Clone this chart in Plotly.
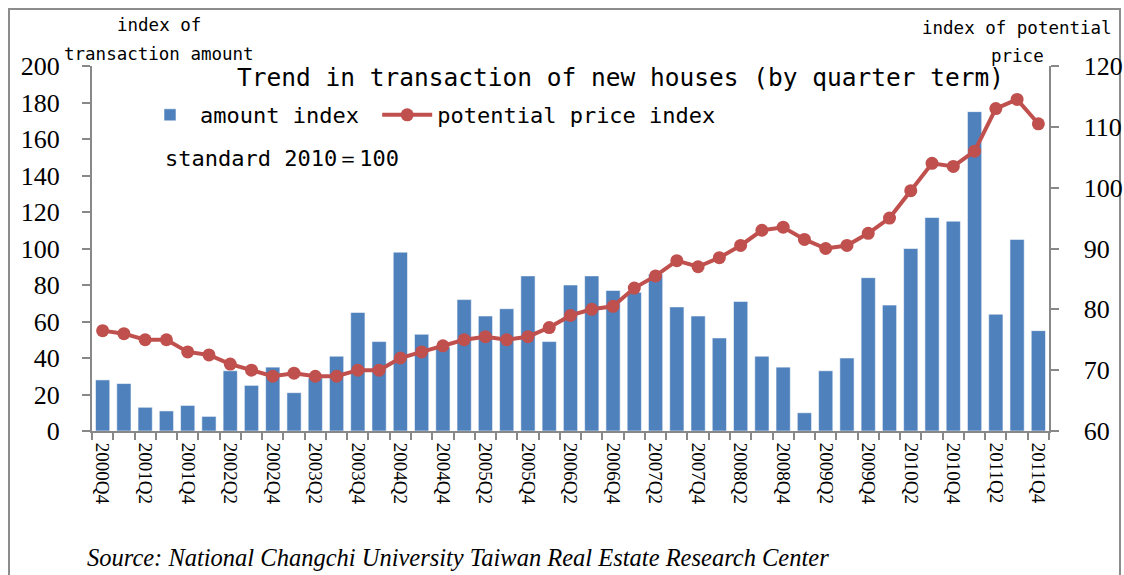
import plotly.graph_objects as go

quarters = ["2000Q4",
            "2001Q1", "2001Q2", "2001Q3", "2001Q4",
            "2002Q1", "2002Q2", "2002Q3", "2002Q4",
            "2003Q1", "2003Q2", "2003Q3", "2003Q4",
            "2004Q1", "2004Q2", "2004Q3", "2004Q4",
            "2005Q1", "2005Q2", "2005Q3", "2005Q4",
            "2006Q1", "2006Q2", "2006Q3", "2006Q4",
            "2007Q1", "2007Q2", "2007Q3", "2007Q4",
            "2008Q1", "2008Q2", "2008Q3", "2008Q4",
            "2009Q1", "2009Q2", "2009Q3", "2009Q4",
            "2010Q1", "2010Q2", "2010Q3", "2010Q4",
            "2011Q1", "2011Q2", "2011Q3", "2011Q4"]

amount_index = [28,
                26, 13, 11, 14,
                8, 33, 25, 35,
                21, 29, 41, 65,
                49, 98, 53, 46,
                72, 63, 67, 85,
                49, 80, 85, 77,
                76, 86, 68, 63,
                51, 71, 41, 35,
                10, 33, 40, 84,
                69, 100, 117, 115,
                175, 64, 105, 55]

price_index = [76.5,
               76, 75, 75, 73,
               72.5, 71, 70, 69,
               69.5, 69, 69, 70,
               70, 72, 73, 74,
               75, 75.5, 75, 75.5,
               77, 79, 80, 80.5,
               83.5, 85.5, 88, 87,
               88.5, 90.5, 93, 93.5,
               91.5, 90, 90.5, 92.5,
               95, 99.5, 104, 103.5,
               106, 113, 114.5, 110.5]

tick_labels = quarters[::2]

# page body margin is removed by post_script, so figure pixels == screenshot pixels
W, H = 1124, 575
PL, PR, PT, PB = 92, 1049, 66, 431


def px(x):
    return (x - PL) / (PR - PL)


def py(y):
    return (PB - y) / (PB - PT)


BLUE = "#4F81BD"
RED = "#C0504D"
MONO = "DejaVu Sans Mono"
SERIF = "Liberation Serif"
NBSP = "\u00a0"

xs = list(range(len(quarters)))

fig = go.Figure()
fig.add_trace(go.Bar(
    x=xs, y=amount_index, name="amount index" + NBSP,
    marker=dict(color=BLUE, line=dict(color="rgba(255,255,255,0.55)", width=1)),
    yaxis="y",
))
fig.add_trace(go.Scatter(
    x=xs, y=price_index, name="potential price index",
    mode="lines+markers",
    line=dict(color=RED, width=4),
    marker=dict(color=RED, size=13),
    yaxis="y2",
))

fig.update_layout(
    width=W, height=H,
    margin=dict(l=PL, r=W - PR, t=PT, b=H - PB, autoexpand=False),
    paper_bgcolor="white", plot_bgcolor="white",
    bargap=0.33,
    showlegend=True,
    legend=dict(
        orientation="h", x=px(140), y=py(115), xanchor="left", yanchor="middle",
        font=dict(family=MONO, size=22, color="black"),
        bgcolor="rgba(0,0,0,0)", itemwidth=50, tracegroupgap=0,
    ),
    xaxis=dict(
        range=[-0.5, len(quarters) - 0.5],
        tickmode="array", tickvals=xs[::2], ticktext=tick_labels,
        tickangle=90, ticks="", showgrid=False, zeroline=False,
        showline=True, linecolor="#888888", linewidth=2,
        tickfont=dict(family=SERIF, size=19, color="black"),
        minor=dict(tick0=-0.5, dtick=1, ticks="outside", ticklen=7,
                   tickcolor="#888888", tickwidth=1.5, showgrid=False),
        ticklabelstandoff=6,
    ),
    yaxis=dict(
        range=[0, 200], dtick=20, showgrid=False, zeroline=False,
        showline=True, linecolor="#888888", linewidth=2,
        ticks="outside", ticklen=8, tickcolor="#888888", tickwidth=1.5,
        tickfont=dict(family=SERIF, size=26, color="black"),
        ticklabelstandoff=17,
    ),
    yaxis2=dict(
        range=[60, 120], dtick=10, overlaying="y", side="right",
        showgrid=False, zeroline=False,
        showline=True, linecolor="#888888", linewidth=2,
        ticks="outside", ticklen=8, tickcolor="#888888", tickwidth=1.5,
        tickfont=dict(family=SERIF, size=26, color="black"),
        tickprefix=NBSP * 3,
    ),
)

annos = [
    dict(text="Trend in transaction of new houses (by quarter term)", x=px(620), y=py(78),
         font=dict(family=MONO, size=24.5, color="black"), xanchor="center"),
    dict(text="standard 2010＝100", x=px(163), y=py(158),
         font=dict(family=MONO, size=22, color="black"), xanchor="left"),
    dict(text="index of", x=px(159), y=py(25),
         font=dict(family=MONO, size=17.5, color="black"), xanchor="center"),
    dict(text="transaction amount", x=px(159), y=py(54),
         font=dict(family=MONO, size=17.5, color="black"), xanchor="center"),
    dict(text="index of potential", x=px(1017), y=py(28),
         font=dict(family=MONO, size=17.5, color="black"), xanchor="center"),
    dict(text="price", x=px(1017), y=py(56),
         font=dict(family=MONO, size=17.5, color="black"), xanchor="center"),
    dict(text="<i>Source: National Changchi University Taiwan Real Estate Research Center</i>",
         x=px(85), y=py(557),
         font=dict(family=SERIF, size=24.5, color="black"), xanchor="left"),
]
for a in annos:
    a.update(xref="paper", yref="paper", yanchor="middle", showarrow=False)
    fig.add_annotation(**a)

fig.add_shape(type="rect", xref="paper", yref="paper",
              x0=px(9), x1=px(1120), y0=py(590), y1=py(9),
              line=dict(color="#8c8c8c", width=2), fillcolor="rgba(0,0,0,0)", layer="below")

fig.write_html("out.html",
               config={"displayModeBar": False},
               post_script="document.body.style.margin='0';document.body.style.overflow='hidden';")
